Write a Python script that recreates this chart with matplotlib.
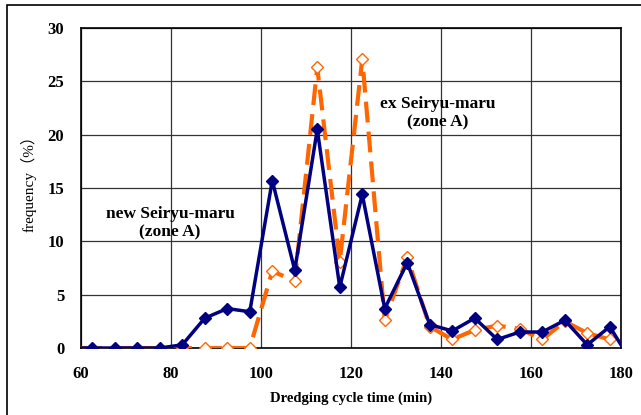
import numpy as np
import matplotlib
matplotlib.use('Agg')
import matplotlib.pyplot as plt
from matplotlib.patches import Rectangle

plt.rcParams['font.family'] = ['Liberation Serif', 'Noto Sans CJK JP']

# cycle time bins (min)
t_new = [60, 62.5, 67.5, 72.5, 77.5, 82.5, 87.5, 92.5, 97.5, 102.5, 107.5,
         112.5, 117.5, 122.5, 127.5, 132.5, 137.5, 142.5, 147.5, 152.5,
         157.5, 162.5, 167.5, 172.5, 177.5, 180]
f_new = [0, 0, 0, 0, 0, 0.3, 2.8, 3.7, 3.4, 15.7, 7.3,
         20.5, 5.7, 14.4, 3.7, 8.0, 2.2, 1.6, 2.8, 0.8,
         1.5, 1.5, 2.6, 0.3, 2.0, 0.3]

t_ex = [60, 82.5, 87.5, 92.5, 97.5, 102.5, 107.5, 112.5, 117.5, 122.5,
        127.5, 132.5, 137.5, 142.5, 147.5, 152.5, 157.5, 162.5, 167.5,
        172.5, 177.5, 180]
f_ex = [0, 0, 0, 0, 0, 7.2, 6.3, 26.3, 8.1, 27.1,
        2.6, 8.5, 2.0, 0.8, 1.7, 2.1, 1.8, 0.8, 2.5,
        1.4, 0.8, 0.2]

fig = plt.figure(figsize=(6.41, 4.15), dpi=100)
ax = fig.add_axes([0.1264, 0.1614, 0.8424, 0.7711])

# outer frame (cropped on right/bottom)
fig.patches.append(Rectangle((7 / 641, -0.1), 1.2, 1 - 5 / 415 + 0.1,
                             transform=fig.transFigure, fill=False,
                             edgecolor='black', lw=1.2))

ax.plot(t_ex, f_ex, color='#FF6600', lw=3, dashes=(5, 2.2),
        marker='D', ms=6, mfc='white', mec='#FF6600', mew=1,
        markevery=list(range(1, len(t_ex) - 1)), zorder=3)
ax.plot(t_new, f_new, color='#000080', lw=2.5,
        marker='D', ms=6, mfc='#000080', mec='#000080',
        markevery=list(range(1, len(t_new) - 1)), zorder=4)

ax.set_xlim(60, 180)
ax.set_ylim(0, 30)
ax.set_xticks(np.arange(60, 181, 20))
ax.set_yticks(np.arange(0, 31, 5))
ax.grid(True, color='#333333', lw=0.9)
ax.set_axisbelow(True)
ax.tick_params(length=0, labelsize=12)
ax.tick_params(axis='x', pad=13)
ax.tick_params(axis='y', pad=12)
for lab in ax.get_xticklabels() + ax.get_yticklabels():
    lab.set_fontweight('bold')
for s in ax.spines.values():
    s.set_linewidth(1.2)

ax.set_xlabel('Dredging cycle time (min)', fontsize=10.5, fontweight='bold',
              labelpad=7)
ax.set_ylabel('frequency（%）', fontsize=11)
ax.yaxis.set_label_coords(-0.083, 0.525)

ax.text(139.3, 22.0, 'ex Seiryu-maru\n(zone A)', ha='center', va='center',
        fontsize=12.5, fontweight='bold', linespacing=1.15)
ax.text(79.8, 11.7, 'new Seiryu-maru\n(zone A)', ha='center', va='center',
        fontsize=12.5, fontweight='bold', linespacing=1.15)

fig.savefig('out.png', dpi=100)
